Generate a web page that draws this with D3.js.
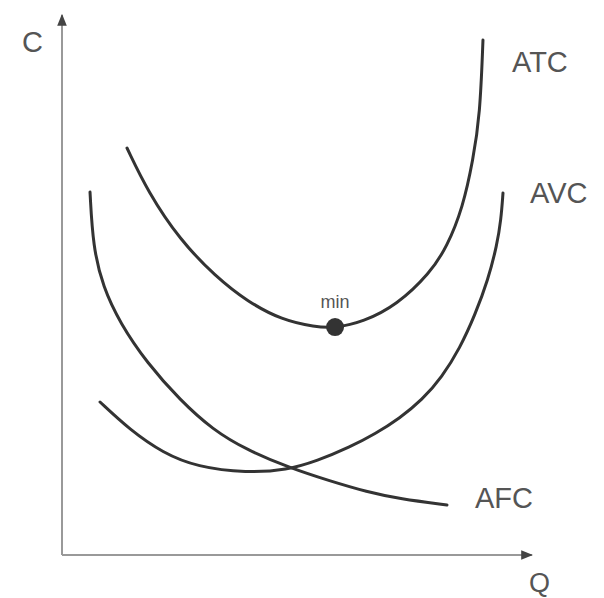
<!DOCTYPE html>
<html><head><meta charset="utf-8">
<script src="https://cdn.jsdelivr.net/npm/d3@7/dist/d3.min.js"></script>
<style>html,body{margin:0;padding:0;background:#fff;}svg{display:block;}</style>
</head><body>
<svg id="chart" width="604" height="598"></svg>
<script>
// Data (Q, C), in arbitrary units 0..100
const atcQ = [13.83, 18.30, 25.11, 32.55, 39.57, 46.81, 53.83, 58.09, 64.04, 71.28, 78.30, 81.91, 85.32, 87.45, 88.94, 89.57];
const atcC = [75.37, 67.22, 58.33, 51.67, 46.85, 43.52, 42.22, 42.04, 43.15, 46.30, 52.22, 57.04, 64.44, 73.15, 81.48, 95.37];
const avcQ = [8.09, 14.47, 21.49, 28.72, 39.36, 47.87, 54.26, 61.28, 66.60, 71.91, 76.60, 80.85, 84.68, 87.87, 90.64, 92.55, 93.40, 93.83];
const avcC = [28.33, 23.15, 18.89, 16.30, 15.19, 15.74, 17.41, 20.00, 22.41, 25.37, 28.70, 32.96, 38.33, 44.44, 50.93, 57.41, 62.04, 67.04];
const afcQ = [5.96, 6.60, 8.72, 12.34, 18.09, 25.11, 32.13, 39.36, 48.51, 57.02, 64.89, 71.91, 81.91];
const afcC = [67.22, 57.04, 49.63, 42.96, 35.56, 28.70, 23.15, 19.44, 16.11, 13.70, 11.67, 10.37, 9.26];
const minPoint = [58.1, 42.2];
const curveLabels = ["ATC", "AVC", "AFC"];
const axisLabels = ["C", "Q"];
const minLabel = "min";

const svg = d3.select("#chart");
const x = d3.scaleLinear().domain([0, 100]).range([62, 532]);
const y = d3.scaleLinear().domain([0, 100]).range([555, 15]);

const defs = svg.append("defs");
defs.append("marker").attr("id", "arr").attr("viewBox", "0 0 10 10")
  .attr("refX", 9).attr("refY", 5).attr("markerWidth", 6).attr("markerHeight", 6)
  .attr("markerUnits", "strokeWidth").attr("orient", "auto")
  .append("path").attr("d", "M0,1 L10,5 L0,9 Z").attr("fill", "#444");

// axes
svg.append("line").attr("x1", x(0)).attr("y1", y(0)).attr("x2", x(0)).attr("y2", y(100))
  .attr("stroke", "#999").attr("stroke-width", 2).attr("marker-end", "url(#arr)");
svg.append("line").attr("x1", x(0)).attr("y1", y(0)).attr("x2", x(100)).attr("y2", y(0))
  .attr("stroke", "#999").attr("stroke-width", 2).attr("marker-end", "url(#arr)");

const line = d3.line().x(d => x(d[0])).y(d => y(d[1])).curve(d3.curveBasis);
const series = [
  {name: curveLabels[0], pts: atcQ.map((q, i) => [q, atcC[i]])},
  {name: curveLabels[1], pts: avcQ.map((q, i) => [q, avcC[i]])},
  {name: curveLabels[2], pts: afcQ.map((q, i) => [q, afcC[i]])}
];
svg.selectAll("path.curve").data(series).join("path").attr("class", "curve")
  .attr("d", d => line(d.pts)).attr("fill", "none")
  .attr("stroke", "#333").attr("stroke-width", 3).attr("stroke-linecap", "round");

svg.append("circle").attr("cx", x(minPoint[0])).attr("cy", y(minPoint[1])).attr("r", 9).attr("fill", "#333");

const font = "'Liberation Sans', Arial, sans-serif";
svg.append("text").attr("x", x(minPoint[0])).attr("y", y(minPoint[1]) - 19)
  .attr("text-anchor", "middle").attr("font-family", font).attr("font-size", 18).attr("fill", "#555").text(minLabel);

// curve labels near ends
const labelOffsets = [[29, 32], [27, 10], [28, 3]];
series.forEach((s, i) => {
  const last = s.pts[s.pts.length - 1];
  svg.append("text").attr("x", x(last[0]) + labelOffsets[i][0]).attr("y", y(last[1]) + labelOffsets[i][1])
    .attr("font-family", font).attr("font-size", 29).attr("fill", "#555").text(s.name);
});

svg.append("text").attr("x", 22).attr("y", 52).attr("font-family", font).attr("font-size", 29).attr("fill", "#555").text(axisLabels[0]);
svg.append("text").attr("x", 529).attr("y", 592).attr("font-family", font).attr("font-size", 27).attr("fill", "#555").text(axisLabels[1]);
</script>
</body></html>
